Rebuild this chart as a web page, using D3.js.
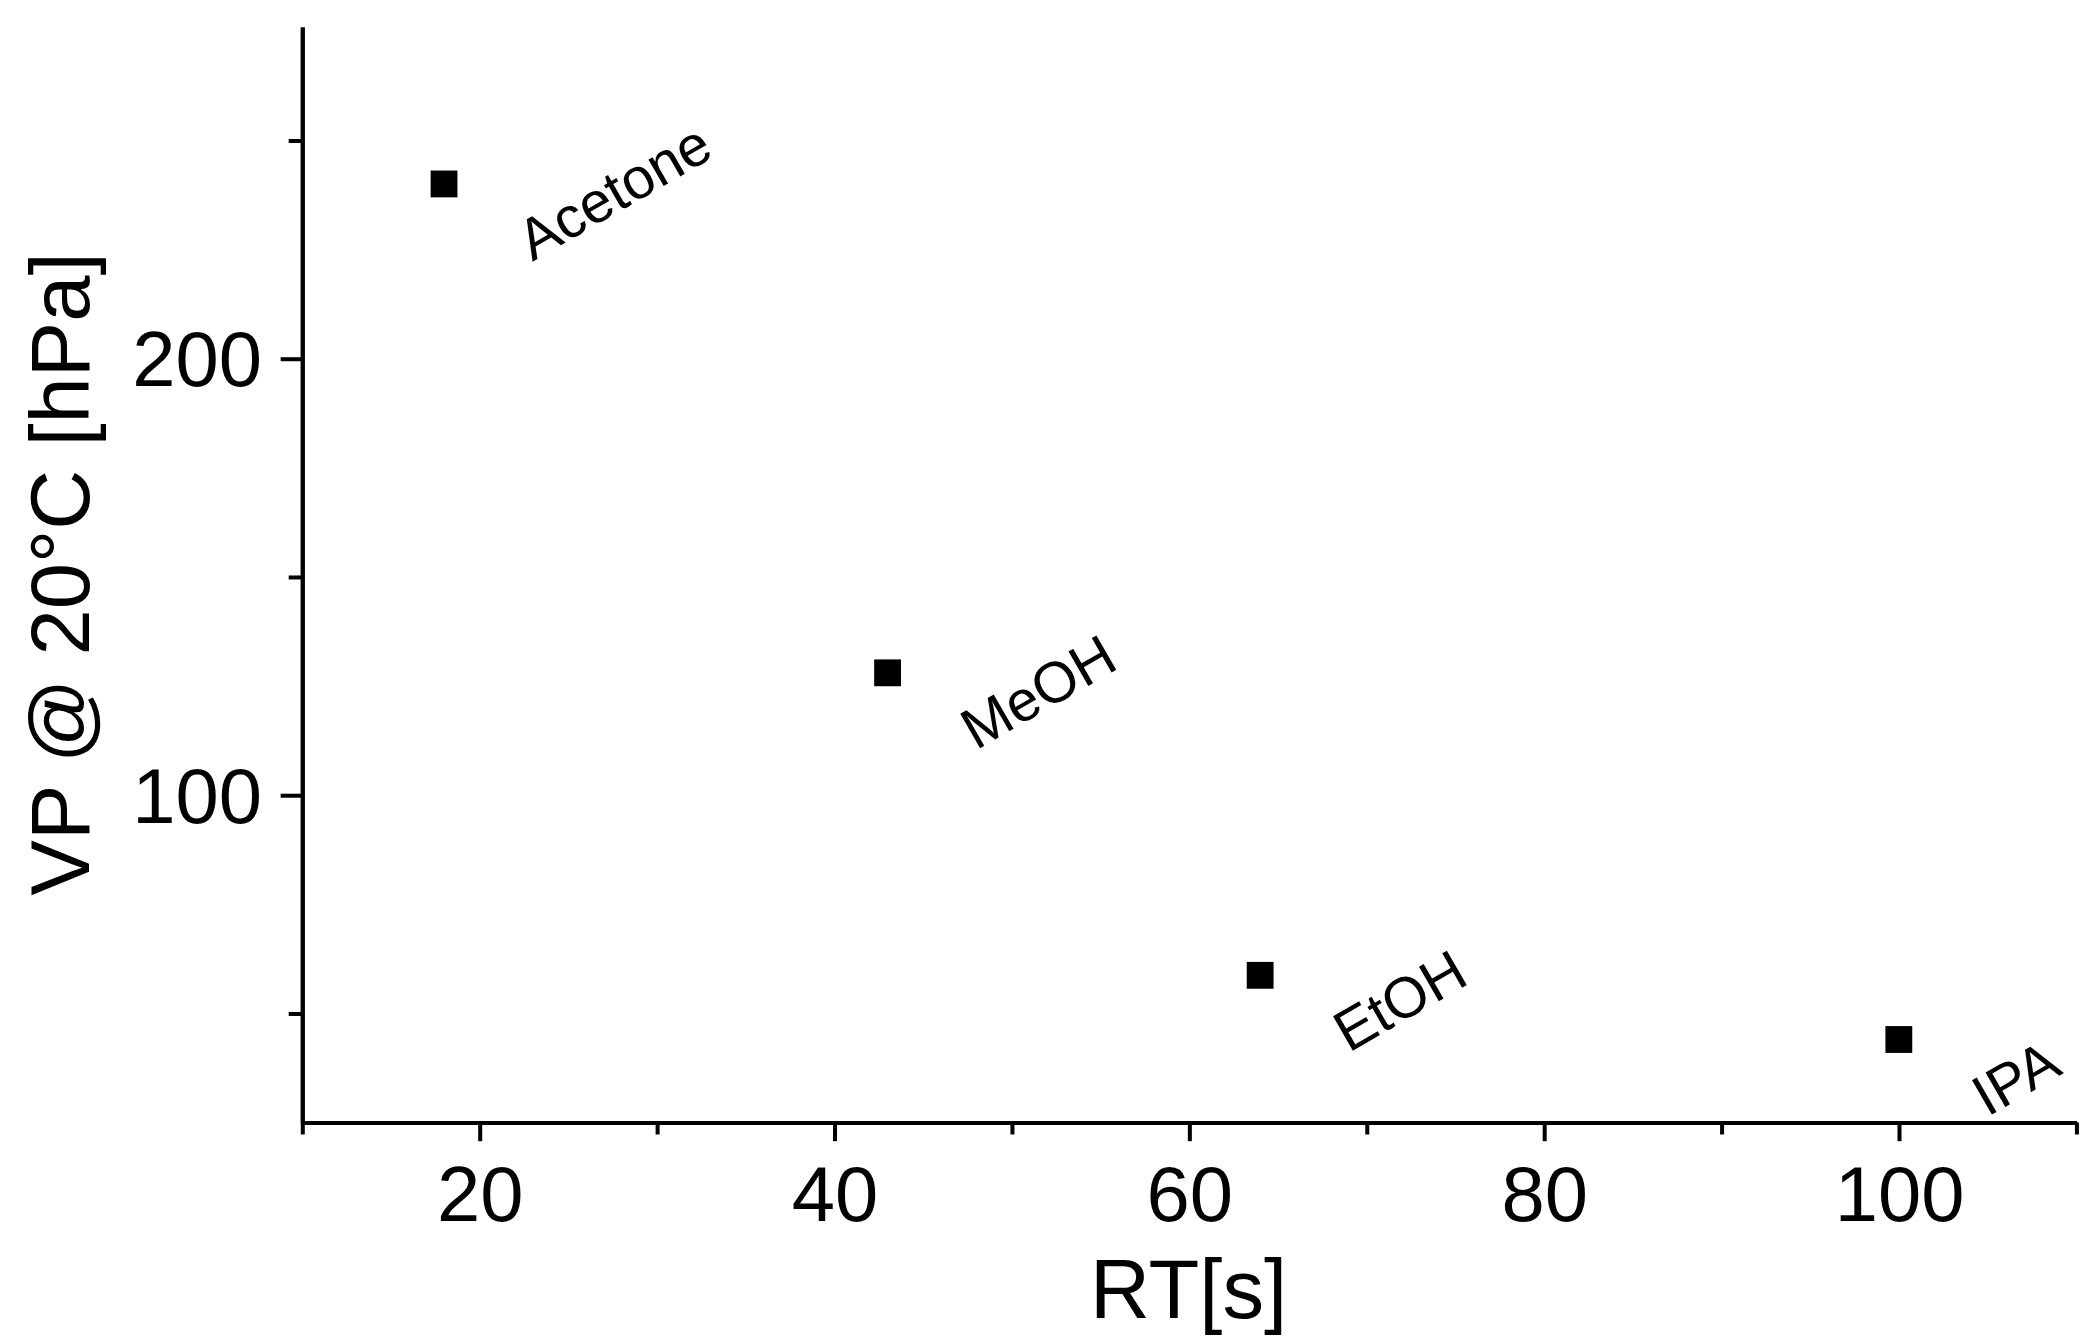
<!DOCTYPE html>
<html><head><meta charset="utf-8">
<script src="https://cdn.jsdelivr.net/npm/d3@7"></script>
<style>body{margin:0;background:#fff}</style></head>
<body><svg id="c" width="2082" height="1341" viewBox="0 0 1552 1000"></svg>
<script>
const names = ["Acetone","MeOH","EtOH","IPA"];
const rt = [18, 43, 64, 100];
const vp = [240, 128, 58.7, 44];
const xTicks = [20,40,60,80,100];
const yTicks = [100,200];

const svg = d3.select("#c");
const font = "Liberation Sans, Arial, sans-serif";
const x = d3.scaleLinear().domain([10,110]).range([225,1548]);
const y = d3.scaleLinear().domain([25,276]).range([837,20]);

const xa = svg.append("g").attr("transform","translate(0,837)")
  .call(d3.axisBottom(x).tickValues(xTicks).tickSize(14).tickPadding(18).tickSizeOuter(0));
const xm = svg.append("g").attr("transform","translate(0,837)")
  .call(d3.axisBottom(x).tickValues([10,30,50,70,90,110]).tickSize(9).tickFormat("").tickSizeOuter(0));
const ya = svg.append("g").attr("transform","translate(225,0)")
  .call(d3.axisLeft(y).tickValues(yTicks).tickSize(16).tickPadding(14).tickSizeOuter(0));
const ym = svg.append("g").attr("transform","translate(225,0)")
  .call(d3.axisLeft(y).tickValues([50,150,250]).tickSize(10).tickFormat("").tickSizeOuter(0));
[xa,xm,ya,ym].forEach(g=>{
  g.selectAll("path,line").attr("stroke","#000").attr("stroke-width",3);
  g.selectAll("text").attr("font-family",font).attr("font-size",58).attr("fill","#000");
});
ya.selectAll("text").attr("dy","0.35em");

svg.append("text").attr("x",886).attr("y",983).attr("text-anchor","middle")
  .attr("font-family",font).attr("font-size",62).text("RT[s]");
svg.append("text").attr("transform","translate(66,428) rotate(-90)").attr("text-anchor","middle")
  .attr("font-family",font).attr("font-size",62).text("VP @ 20°C [hPa]");

const pts = names.map((n,i)=>({n, x:rt[i], y:vp[i]}));
svg.selectAll("rect.m").data(pts).join("rect").attr("class","m")
  .attr("x",d=>x(d.x)-10).attr("y",d=>y(d.y)-10).attr("width",20).attr("height",20).attr("fill","#000");
svg.selectAll("text.l").data(pts).join("text").attr("class","l")
  .attr("transform",d=>`translate(${x(d.x)+66},${y(d.y)+58}) rotate(-30)`)
  .attr("font-family",font).attr("font-size",43).text(d=>d.n);
</script></body></html>
